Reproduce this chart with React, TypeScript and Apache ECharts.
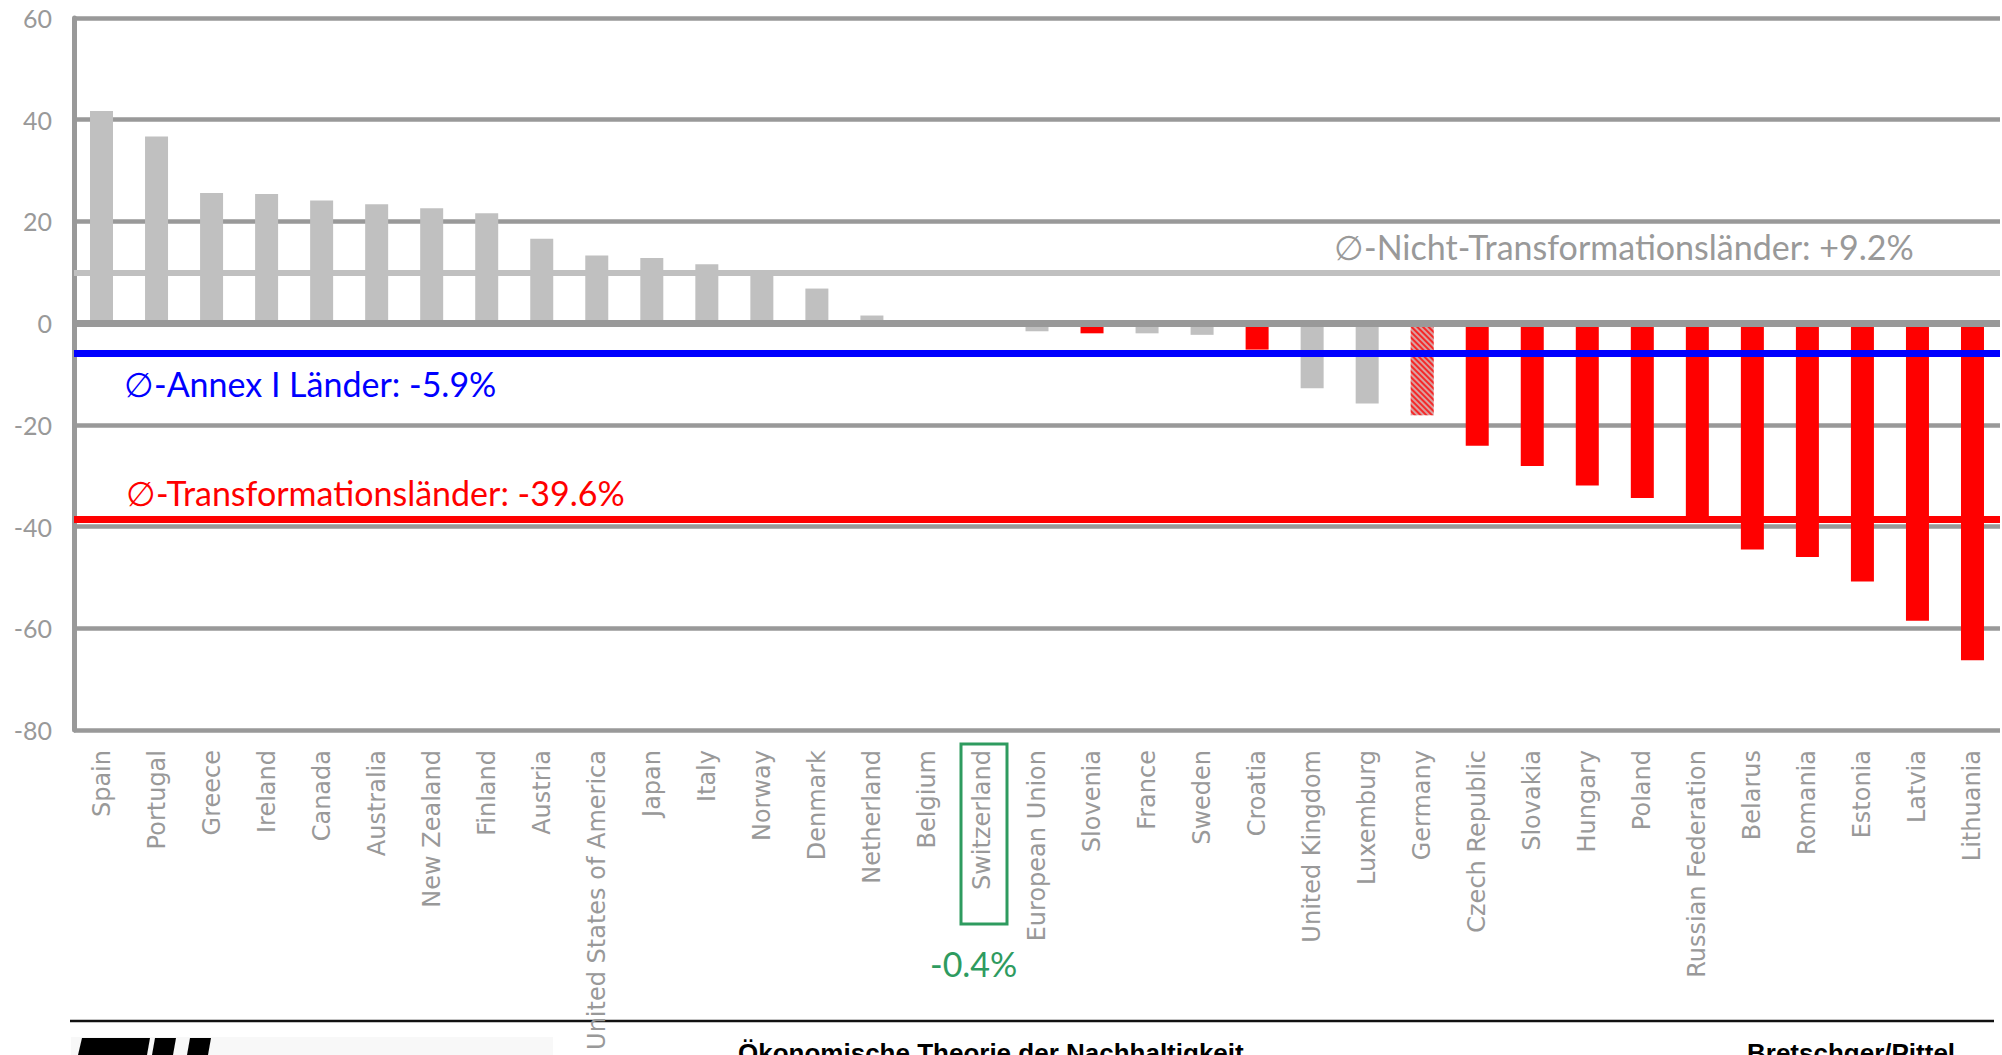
import React, { useEffect, useRef } from 'react';
import * as echarts from 'echarts';

const categories = [
  'Spain', 'Portugal', 'Greece', 'Ireland', 'Canada', 'Australia', 'New Zealand', 'Finland', 'Austria',
  'United States of America', 'Japan', 'Italy', 'Norway', 'Denmark', 'Netherland', 'Belgium', 'Switzerland',
  'European Union', 'Slovenia', 'France', 'Sweden', 'Croatia', 'United Kingdom', 'Luxemburg', 'Germany',
  'Czech Republic', 'Slovakia', 'Hungary', 'Poland', 'Russian Federation', 'Belarus', 'Romania', 'Estonia',
  'Latvia', 'Lithuania',
];

const values = [
  41.7, 36.7, 25.6, 25.4, 24.1, 23.4, 22.6, 21.6, 16.6,
  13.3, 12.8, 11.6, 10.3, 6.8, 1.5, 0.5, -0.4,
  -1.6, -2.0, -2.0, -2.3, -5.2, -12.8, -15.8, -18.1,
  -24.1, -28.1, -31.9, -34.4, -38.0, -44.5, -46.0, -50.8,
  -58.5, -66.3,
];

const transformationCountries = [
  'Slovenia', 'Croatia', 'Czech Republic', 'Slovakia', 'Hungary', 'Poland', 'Russian Federation',
  'Belarus', 'Romania', 'Estonia', 'Latvia', 'Lithuania',
];
const hatchedCountries = ['Germany'];

const avgNonTransformationLine = 10.0;
const avgAnnexLine = -6.0;
const avgTransformationLine = -38.5;

const avgNonTransformationLabel = '\u2205-Nicht-Transformationsländer: +9.2%';
const avgAnnexLabel = '\u2205-Annex I Länder: -5.9%';
const avgTransformationLabel = '\u2205-Transformationsländer: -39.6%';
const switzerlandLabel = '-0.4%';

const yTicks = { min: -80, max: 60, interval: 20 };

const GRAY = '#c0c0c0';
const AXIS_GRAY = '#999999';
const RED = '#ff0000';
const BLUE = '#0000ff';
const GREEN = '#2e9b5f';

export default function App() {
  const ref = useRef<HTMLDivElement>(null);

  useEffect(() => {
    document.body.style.margin = '0';
    const chart = echarts.init(ref.current!, undefined, { renderer: 'svg' });

    const data = categories.map((c, i) => {
      let itemStyle: any = { color: GRAY };
      if (transformationCountries.includes(c)) itemStyle = { color: RED };
      if (hatchedCountries.includes(c)) {
        itemStyle = {
          color: '#d8a0a0',
          decal: {
            symbol: 'rect',
            color: 'rgba(255,0,0,0.75)',
            dashArrayX: [1, 0],
            dashArrayY: [2, 2],
            rotation: Math.PI / 4,
          },
        };
      }
      return { value: values[i], itemStyle };
    });

    chart.setOption({
      animation: false,
      backgroundColor: '#ffffff',
      grid: { left: 74, right: 2, top: 18, bottom: 325, containLabel: false },
      xAxis: {
        type: 'category',
        data: categories,
        axisLine: { show: false },
        axisTick: { show: false },
        splitLine: { show: false },
        axisLabel: {
          rotate: 90,
          interval: 0,
          margin: 20,
          color: AXIS_GRAY,
          fontFamily: 'DejaVu Sans',
          fontSize: 24,
        },
      },
      yAxis: {
        type: 'value',
        min: yTicks.min,
        max: yTicks.max,
        interval: yTicks.interval,
        axisLine: { show: true, lineStyle: { color: AXIS_GRAY, width: 5 } },
        axisTick: { show: false },
        splitLine: { show: true, lineStyle: { color: AXIS_GRAY, width: 4.5 } },
        axisLabel: {
          color: AXIS_GRAY,
          fontFamily: 'Lato',
          fontSize: 25,
          margin: 22,
        },
      },
      series: [
        {
          type: 'bar',
          data,
          barWidth: 23,
          markLine: {
            silent: true,
            symbol: 'none',
            label: { show: false },
            data: [
              { yAxis: 0, lineStyle: { color: AXIS_GRAY, width: 7, type: 'solid' } },
              { yAxis: avgNonTransformationLine, lineStyle: { color: GRAY, width: 6, type: 'solid' } },
              { yAxis: avgAnnexLine, lineStyle: { color: BLUE, width: 7, type: 'solid' } },
              { yAxis: avgTransformationLine, lineStyle: { color: RED, width: 7, type: 'solid' } },
            ],
          },
        },
      ],
      graphic: [
        {
          type: 'text',
          left: 1334,
          top: 229,
          style: { text: avgNonTransformationLabel, fill: AXIS_GRAY, font: '34px Lato' },
        },
        {
          type: 'text',
          left: 124,
          top: 366,
          style: { text: avgAnnexLabel, fill: BLUE, font: '34px Lato' },
        },
        {
          type: 'text',
          left: 126,
          top: 475,
          style: { text: avgTransformationLabel, fill: RED, font: '34px Lato' },
        },
        {
          type: 'rect',
          shape: { x: 961, y: 744, width: 46, height: 180 },
          style: { fill: 'none', stroke: GREEN, lineWidth: 3 },
        },
        {
          type: 'text',
          left: 930,
          top: 946,
          style: { text: switzerlandLabel, fill: GREEN, font: '34px Lato' },
        },
        {
          type: 'rect',
          shape: { x: 71, y: 1037, width: 482, height: 20 },
          style: { fill: '#f8f8f8' },
          z: -1,
        },
        {
          type: 'line',
          shape: { x1: 70, y1: 1021, x2: 1994, y2: 1021 },
          style: { stroke: '#111111', lineWidth: 2.5 },
        },
        {
          type: 'polygon',
          shape: { points: [[82, 1038], [150, 1038], [147, 1055], [78, 1055]] },
          style: { fill: '#000000' },
        },
        {
          type: 'polygon',
          shape: { points: [[155, 1038], [176, 1038], [173, 1055], [152, 1055]] },
          style: { fill: '#000000' },
        },
        {
          type: 'polygon',
          shape: { points: [[190, 1038], [211, 1038], [208, 1055], [187, 1055]] },
          style: { fill: '#000000' },
        },
        {
          type: 'text',
          left: 738,
          top: 1040,
          style: { text: 'Ökonomische Theorie der Nachhaltigkeit', fill: '#000000', font: 'bold 26px "Liberation Sans"' },
        },
        {
          type: 'text',
          left: 1747,
          top: 1040,
          style: { text: 'Bretschger/Pittel', fill: '#000000', font: 'bold 26px "Liberation Sans"' },
        },
      ],
    });

    return () => chart.dispose();
  }, []);

  return <div ref={ref} style={{ width: 2002, height: 1055 }} />;
}
